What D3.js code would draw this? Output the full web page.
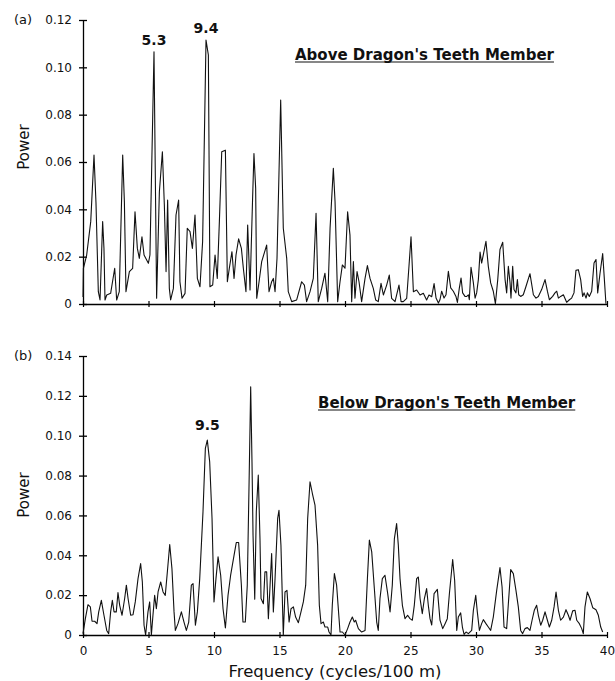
<!DOCTYPE html>
<html><head><meta charset="utf-8">
<script src="https://cdn.jsdelivr.net/npm/d3@7/dist/d3.min.js"></script>
<style>body{margin:0;background:#fff}</style>
</head><body>
<svg id="c" width="615" height="681"></svg>
<script>
// ---- Data: panel (a) Above Dragon's Teeth Member ----
const freqA = [0,0.03,0.28,0.59,0.84,0.99,1.17,1.30,1.50,1.60,1.68,1.81,2.11,2.42,2.57,2.77,3.03,3.16,3.28,3.54,3.79,3.97,4.15,4.30,4.50,4.66,4.99,5.11,5.42,5.62,5.83,6.06,6.21,6.34,6.46,6.59,6.69,6.90,7.10,7.30,7.40,7.56,7.79,7.96,8.17,8.35,8.55,8.73,8.93,9.13,9.39,9.57,9.69,9.90,10.08,10.25,10.41,10.59,10.87,11.02,11.17,11.37,11.53,11.68,11.88,12.09,12.24,12.44,12.57,12.75,12.95,13.05,13.18,13.26,13.44,13.64,14.02,14.20,14.40,14.53,14.66,14.81,15.09,15.29,15.55,15.67,15.93,16.31,16.69,16.90,17.07,17.33,17.58,17.79,17.96,18.22,18.47,18.68,18.86,19.11,19.24,19.44,19.62,19.80,20.00,20.20,20.38,20.51,20.64,20.76,20.92,21.07,21.27,21.53,21.71,21.91,22.16,22.34,22.54,22.75,22.93,23.18,23.38,23.56,23.82,24.12,24.28,24.45,24.71,24.89,25.04,25.22,25.47,25.73,25.98,26.23,26.41,26.62,26.80,26.95,27.13,27.25,27.38,27.56,27.71,27.89,28.07,28.27,28.47,28.58,28.73,28.86,28.98,29.16,29.29,29.42,29.49,29.62,29.80,29.93,30.05,30.18,30.31,30.43,30.56,30.76,30.94,31.12,31.32,31.48,31.66,31.83,32.04,32.22,32.34,32.47,32.60,32.67,32.80,32.90,33.05,33.16,33.26,33.41,33.61,33.82,34.12,34.38,34.58,34.76,35.01,35.27,35.45,35.60,35.85,36.03,36.16,36.29,36.46,36.67,36.92,37.13,37.30,37.48,37.63,37.81,37.99,38.14,38.25,38.40,38.50,38.65,38.83,39.01,39.16,39.29,39.47,39.67,39.80,39.92];
const powerA = [0.003,0.0151,0.0207,0.0348,0.0629,0.043,0.0052,0.0017,0.0348,0.0235,0.0017,0.0038,0.0045,0.0151,0.0017,0.0052,0.0629,0.043,0.0052,0.0137,0.0151,0.039,0.0235,0.0193,0.0284,0.0207,0.0172,0.0207,0.1066,0.0024,0.0474,0.0643,0.0418,0.0137,0.0439,0.0066,0.0017,0.0066,0.0376,0.0439,0.0094,0.0024,0.0045,0.032,0.0306,0.0235,0.0376,0.0108,0.0073,0.0263,0.1115,0.1052,0.0073,0.008,0.0207,0.0108,0.0348,0.0643,0.065,0.0094,0.0151,0.0221,0.0108,0.0207,0.0275,0.0235,0.0151,0.0052,0.0334,0.0059,0.0453,0.0636,0.0489,0.0024,0.0094,0.0179,0.0249,0.0052,0.0094,0.0108,0.0052,0.0193,0.0862,0.032,0.0193,0.0052,0.001,0.0017,0.0094,0.008,0.001,0.0052,0.0108,0.0383,0.001,0.0066,0.013,0.001,0.032,0.0573,0.0432,0.001,0.0094,0.0165,0.0151,0.039,0.0291,0.001,0.0179,0.0024,0.0137,0.0094,0.001,0.0108,0.0162,0.0108,0.0066,0.0017,0.001,0.0087,0.0038,0.008,0.0122,0.0024,0.001,0.008,0.001,0.001,0.0024,0.0165,0.0284,0.0052,0.0059,0.0038,0.0045,0.0017,0.0038,0.0031,0.0086,0.0025,0.0004,0.0018,0.0054,0.0025,0.0039,0.0138,0.0068,0.0054,0.0032,0.0007,0.0068,0.011,0.0047,0.0032,0.0032,0.0039,0.0018,0.0155,0.0089,0.0025,0.0047,0.0103,0.0219,0.0173,0.0209,0.0265,0.0159,0.0089,0.0054,0.0001,0.0103,0.023,0.0261,0.0103,0.0047,0.0159,0.0089,0.0025,0.0159,0.0061,0.0047,0.0103,0.0039,0.0032,0.0039,0.0075,0.0128,0.0039,0.0025,0.0032,0.0061,0.0103,0.0054,0.0018,0.0032,0.0047,0.0054,0.0025,0.0032,0.0039,0.0007,0.0018,0.0025,0.0047,0.0142,0.0145,0.0103,0.0032,0.0047,0.0025,0.0047,0.0032,0.0054,0.0173,0.0188,0.0047,0.0131,0.0213,0.0103,0.0001];

// ---- Data: panel (b) Below Dragon's Teeth Member ----
const freqB = [0,0.18,0.38,0.56,0.69,0.89,1.07,1.20,1.40,1.60,1.81,1.96,2.11,2.24,2.37,2.54,2.67,2.80,2.98,3.18,3.31,3.44,3.64,3.82,3.99,4.20,4.40,4.53,4.66,4.78,4.96,5.09,5.22,5.34,5.47,5.60,5.73,5.93,6.11,6.28,6.44,6.62,6.79,6.95,7.05,7.25,7.51,7.71,7.89,8.07,8.27,8.40,8.58,8.73,8.91,9.16,9.34,9.49,9.67,9.85,10.00,10.15,10.31,10.51,10.69,10.87,11.07,11.27,11.53,11.70,11.88,12.09,12.21,12.39,12.54,12.67,12.80,12.90,12.98,13.11,13.23,13.38,13.51,13.59,13.77,13.89,14.02,14.15,14.28,14.40,14.53,14.66,14.86,14.96,15.11,15.29,15.42,15.57,15.73,15.88,16.06,16.23,16.44,16.64,16.82,17.00,17.15,17.33,17.51,17.71,17.91,18.04,18.17,18.35,18.47,18.68,18.78,18.93,19.03,19.19,19.36,19.49,19.62,19.80,20.00,20.20,20.38,20.56,20.71,20.81,21.02,21.27,21.53,21.71,21.86,22.04,22.24,22.42,22.54,22.67,22.85,23.05,23.26,23.44,23.61,23.77,23.94,24.07,24.20,24.38,24.58,24.78,24.96,25.14,25.29,25.47,25.60,25.73,25.90,26.06,26.23,26.36,26.49,26.62,26.80,27.05,27.25,27.46,27.64,27.81,27.97,28.22,28.37,28.53,28.65,28.83,28.96,29.09,29.24,29.42,29.67,29.80,29.98,30.10,30.26,30.43,30.56,30.76,30.94,31.12,31.32,31.58,31.83,31.99,32.14,32.34,32.47,32.65,32.85,33.05,33.23,33.41,33.56,33.74,33.92,34.12,34.28,34.45,34.63,34.76,34.94,35.09,35.27,35.45,35.60,35.78,35.96,36.11,36.29,36.46,36.67,36.87,37.05,37.18,37.38,37.56,37.69,37.89,38.07,38.19,38.32,38.50,38.70,38.91,39.16,39.34,39.52,39.67];
const powerB = [0.0007,0.0082,0.0152,0.0141,0.0069,0.0069,0.0057,0.0116,0.0174,0.0099,0.0023,0.0007,0.0116,0.0174,0.0116,0.0116,0.0213,0.0149,0.0099,0.0183,0.025,0.0183,0.0099,0.0102,0.0166,0.0283,0.0358,0.0266,0.0049,0,0.0116,0.0166,0,0.0099,0.0199,0.0132,0.0216,0.0266,0.0216,0.0199,0.0317,0.0454,0.0333,0.0116,0.0023,0.0057,0.0116,0.0065,0.0023,0.0065,0.025,0.0258,0.0049,0.0116,0.0283,0.0618,0.0936,0.0978,0.0869,0.0585,0.0166,0.0283,0.0392,0.03,0.0132,0.0035,0.0199,0.03,0.04,0.0464,0.0464,0.025,0.0065,0.0065,0.025,0.0735,0.1246,0.0869,0.05,0.018,0.062,0.0802,0.0484,0.0183,0.0157,0.0317,0.0317,0.0082,0.025,0.0409,0.0116,0.0283,0.0585,0.0626,0.0451,0,0.0216,0.0224,0.0065,0.0132,0.0141,0.009,0.0062,0.0116,0.0166,0.025,0.0585,0.0769,0.071,0.0652,0.0451,0.0149,0.0057,0.0065,0.004,0.004,0.0015,0,0.0149,0.0308,0.025,0.0132,0.0015,0.0015,0,0.0032,0.0065,0.009,0.0065,0.0074,0.0032,0.0015,0.0023,0.0283,0.0476,0.0417,0.0233,0.0065,0.0023,0.0183,0.0283,0.03,0.0208,0.0116,0.025,0.0484,0.0559,0.0451,0.0283,0.0149,0.0082,0.0099,0.0082,0.0074,0.0149,0.0283,0.0291,0.0183,0.0107,0.0183,0.0233,0.0149,0.0082,0.0050,0.0208,0.0229,0.0075,0.0032,0.0057,0.0082,0.0208,0.0379,0.0275,0.0023,0.009,0.0111,0.004,0.0003,0.0015,0.0007,0.0023,0.0124,0.0199,0.0116,0.0023,0.0057,0.0077,0.0057,0.004,0.0023,0.009,0.0224,0.0338,0.0241,0.004,0.0032,0.0157,0.0328,0.0308,0.0224,0.0141,0.0023,0.0007,0.0032,0.0037,0.0023,0.0074,0.0124,0.0149,0.0099,0.0049,0.0074,0.0116,0.0074,0.004,0.0074,0.0141,0.0216,0.0124,0.0074,0.009,0.0127,0.0099,0.0074,0.0121,0.0124,0.0074,0.0057,0.0032,0.0007,0.0141,0.0216,0.0183,0.0137,0.0127,0.0099,0.004,0.0015];

// ---- Ticks and labels ----
const xTicks = [0,5,10,15,20,25,30,35,40];
const yTicksA = [0,0.02,0.04,0.06,0.08,0.10,0.12];
const yTicksB = [0,0.02,0.04,0.06,0.08,0.10,0.12,0.14];
const panelLetters = ["(a)","(b)"];
const panelTitles = ["Above Dragon's Teeth Member","Below Dragon's Teeth Member"];
const peakLabelsA = [{f:5.42,p:0.1066,t:"5.3"},{f:9.39,p:0.1115,t:"9.4"}];
const peakLabelsB = [{f:9.49,p:0.0978,t:"9.5"}];
const yLabel = "Power";
const xLabel = "Frequency (cycles/100 m)";

const svg = d3.select("#c");
const FONT = "'DejaVu Sans', Verdana, sans-serif";
const fmtY = d => d === 0 ? "0" : d3.format(".2f")(d);

function panel(o) {
  const x = d3.scaleLinear().domain([0,40]).range([83,607]);
  const y = d3.scaleLinear().domain([0,o.ymax]).range([o.y0,o.yTop]);
  const g = svg.append("g");

  // y axis
  const ya = g.append("g").attr("transform",`translate(${x(0)},0)`)
    .call(d3.axisLeft(y).tickValues(o.yTicks).tickFormat(fmtY).tickSizeInner(4).tickSizeOuter(0).tickPadding(7));
  ya.selectAll(".tick line").attr("x1",4).attr("x2",-4).attr("stroke","#000").attr("stroke-width",1.3);
  ya.select(".domain").attr("stroke","#000").attr("stroke-width",1.3);
  ya.selectAll("text").attr("font-family",FONT).attr("font-size",12).attr("fill","#111");

  // x axis
  const xa = g.append("g").attr("transform",`translate(0,${y(0)})`)
    .call(d3.axisBottom(x).tickValues(xTicks).tickSizeInner(3).tickSizeOuter(0).tickPadding(8.5)
      .tickFormat(o.xLabels ? d3.format("d") : () => ""));
  xa.selectAll(".tick line").attr("y1",-3).attr("y2",3).attr("stroke","#000").attr("stroke-width",1.2);
  xa.select(".domain").attr("stroke","#000").attr("stroke-width",1.3);
  xa.selectAll("text").attr("font-family",FONT).attr("font-size",12).attr("fill","#111");

  // spectrum line
  const pts = o.freq.map((f,i)=>[f,o.power[i]]);
  g.append("path").datum(pts)
    .attr("d", d3.line().x(d=>x(d[0])).y(d=>y(d[1])))
    .attr("fill","none").attr("stroke","#111").attr("stroke-width",1.1).attr("stroke-linejoin","round");

  // panel letter
  g.append("text").attr("x",14).attr("y",o.letterY).text(o.letter)
    .attr("font-family",FONT).attr("font-size",13).attr("fill","#111");

  // y label
  g.append("text").attr("transform",`translate(29,${o.ylabY}) rotate(-90)`)
    .attr("text-anchor","middle").text(yLabel)
    .attr("font-family",FONT).attr("font-size",15).attr("fill","#111");

  // title with underline
  const t = g.append("text").attr("x",o.titleX).attr("y",o.titleY).text(o.title)
    .attr("font-family",FONT).attr("font-weight","bold").attr("font-size",15).attr("fill","#111");
  const w = t.node().getComputedTextLength();
  g.append("line").attr("x1",o.titleX).attr("x2",o.titleX+w)
    .attr("y1",o.titleY+2).attr("y2",o.titleY+2).attr("stroke","#111").attr("stroke-width",1.2);

  // peak labels
  o.peaks.forEach(pk => {
    g.append("text").attr("x",x(pk.f)).attr("y",o.peakY(pk))
      .attr("text-anchor","middle").text(pk.t)
      .attr("font-family",FONT).attr("font-weight","bold").attr("font-size",14).attr("fill","#111");
  });
  return {x,y};
}

panel({freq:freqA,power:powerA,ymax:0.12,y0:304,yTop:20,yTicks:yTicksA,xLabels:false,
  letter:panelLetters[0],letterY:24,ylabY:147,title:panelTitles[0],titleX:295,titleY:60,
  peaks:peakLabelsA,peakY:pk=> pk.t==="5.3"?45:33});

const pb = panel({freq:freqB,power:powerB,ymax:0.14,y0:635,yTop:356,yTicks:yTicksB,xLabels:true,
  letter:panelLetters[1],letterY:360,ylabY:495,title:panelTitles[1],titleX:318,titleY:408,
  peaks:peakLabelsB,peakY:pk=>430});

svg.append("text").attr("x",335).attr("y",677).attr("text-anchor","middle").text(xLabel)
  .attr("font-family",FONT).attr("font-size",16.5).attr("fill","#111");
</script>
</body></html>
